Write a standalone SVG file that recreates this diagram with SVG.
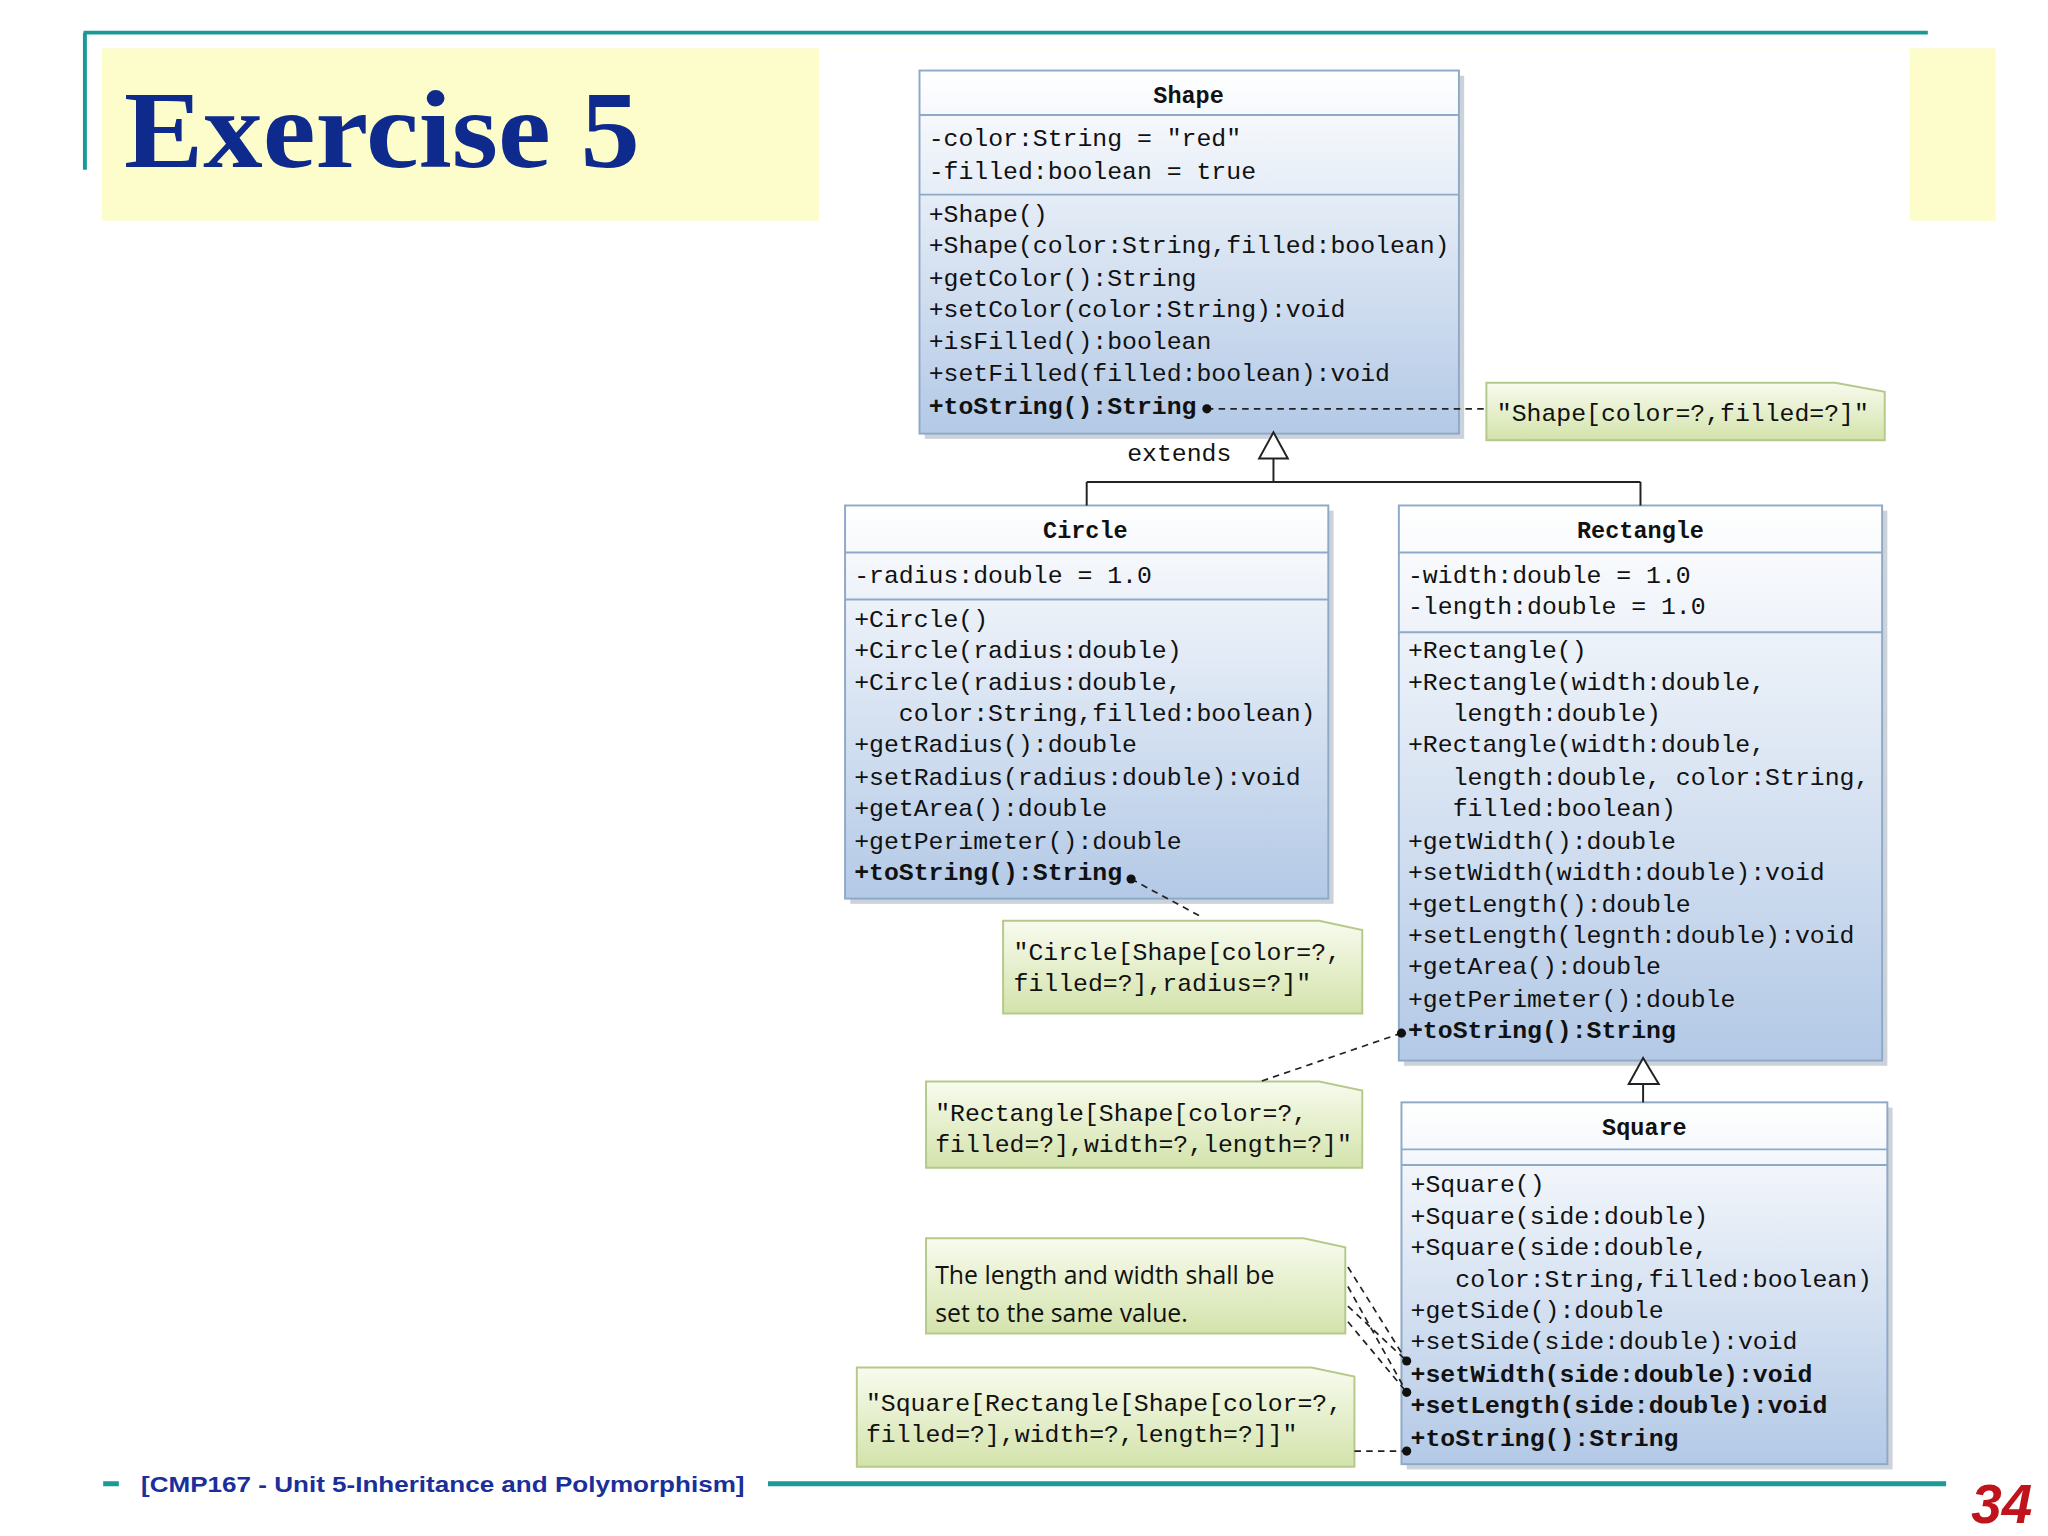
<svg xmlns="http://www.w3.org/2000/svg" width="2048" height="1536" viewBox="0 0 2048 1536">
<style>
.m{font-family:"Liberation Mono","DejaVu Sans Mono",monospace;font-size:19px;fill:#111;white-space:pre}
.b{font-weight:bold}
.h{font-family:"Liberation Mono","DejaVu Sans Mono",monospace;font-size:18px;font-weight:bold;fill:#111;text-anchor:middle}
.box{fill:url(#cg);stroke:#8fa9c8;stroke-width:1.5}
.sep{stroke:#8fa9c8;stroke-width:1.5}
.note{fill:url(#ng);stroke:#b5c98a;stroke-width:1.5}
.dash{stroke:#222;stroke-width:1.3;stroke-dasharray:5,4;fill:none}
.ln{stroke:#222;stroke-width:1.5;fill:none}
.sh{fill:#9aa5b5;opacity:0.5}
</style>
<defs>
<linearGradient id="cg" x1="0" y1="0" x2="0" y2="1"><stop offset="0" stop-color="#ffffff"/><stop offset="1" stop-color="#b3c9e6"/></linearGradient>
<linearGradient id="ng" x1="0" y1="0" x2="0" y2="1"><stop offset="0" stop-color="#f8fbee"/><stop offset="1" stop-color="#d3e3ab"/></linearGradient>
</defs>
<rect width="2048" height="1536" fill="#fff"/>
<g transform="scale(1.30612)" xml:space="preserve">
<g id="header">
<rect x="78" y="37" width="1450" height="132" fill="#fdfdcb"/>
<rect x="627" y="37" width="835" height="140" fill="#fff"/>
<path d="M64 25H1476M65 25V130" stroke="#1a9a96" stroke-width="3" fill="none"/>
<text x="95" y="128" font-family="'Liberation Serif',serif" font-weight="bold" font-size="84" fill="#0d2a8c" textLength="395" lengthAdjust="spacingAndGlyphs">Exercise 5</text>
</g>
<g id="shape">
<rect class="sh" x="708" y="58" width="413" height="278"/>
<rect class="box" x="704" y="54" width="413" height="278"/>
<path class="sep" d="M704 88H1117M704 149H1117"/>
<text class="h" x="910" y="79">Shape</text>
<text class="m" x="711" y="112">-color:String = "red"</text>
<text class="m" x="711" y="137">-filled:boolean = true</text>
<text class="m" x="711" y="170">+Shape()</text>
<text class="m" x="711" y="194">+Shape(color:String,filled:boolean)</text>
<text class="m" x="711" y="219">+getColor():String</text>
<text class="m" x="711" y="243">+setColor(color:String):void</text>
<text class="m" x="711" y="267">+isFilled():boolean</text>
<text class="m" x="711" y="292">+setFilled(filled:boolean):void</text>
<text class="m b" x="711" y="317">+toString():String</text>
</g>
<g id="note-shape">
<path class="note" d="M1138 293H1405L1443 300V337H1138Z"/>
<text class="m" x="1146" y="322">"Shape[color=?,filled=?]"</text>
</g>
<text class="m" x="863" y="353">extends</text>
<g id="circle">
<rect class="sh" x="651" y="391" width="370" height="301"/>
<rect class="box" x="647" y="387" width="370" height="301"/>
<path class="sep" d="M647 423H1017M647 459H1017"/>
<text class="h" x="831" y="412">Circle</text>
<text class="m" x="654" y="446">-radius:double = 1.0</text>
<text class="m" x="654" y="480">+Circle()</text>
<text class="m" x="654" y="504">+Circle(radius:double)</text>
<text class="m" x="654" y="528">+Circle(radius:double,</text>
<text class="m" x="654" y="552">   color:String,filled:boolean)</text>
<text class="m" x="654" y="576">+getRadius():double</text>
<text class="m" x="654" y="601">+setRadius(radius:double):void</text>
<text class="m" x="654" y="625">+getArea():double</text>
<text class="m" x="654" y="650">+getPerimeter():double</text>
<text class="m b" x="654" y="674">+toString():String</text>
</g>
<g id="note-circle">
<path class="note" d="M768 705H1010L1043 712V776H768Z"/>
<text class="m" x="776" y="735">"Circle[Shape[color=?,</text>
<text class="m" x="776" y="759">filled=?],radius=?]"</text>
</g>
<g id="rectangle">
<rect class="sh" x="1075" y="391" width="370" height="425"/>
<rect class="box" x="1071" y="387" width="370" height="425"/>
<path class="sep" d="M1071 423H1441M1071 484H1441"/>
<text class="h" x="1256" y="412">Rectangle</text>
<text class="m" x="1078" y="446">-width:double = 1.0</text>
<text class="m" x="1078" y="470">-length:double = 1.0</text>
<text class="m" x="1078" y="504">+Rectangle()</text>
<text class="m" x="1078" y="528">+Rectangle(width:double,</text>
<text class="m" x="1078" y="552">   length:double)</text>
<text class="m" x="1078" y="576">+Rectangle(width:double,</text>
<text class="m" x="1078" y="601">   length:double, color:String,</text>
<text class="m" x="1078" y="625">   filled:boolean)</text>
<text class="m" x="1078" y="650">+getWidth():double</text>
<text class="m" x="1078" y="674">+setWidth(width:double):void</text>
<text class="m" x="1078" y="698">+getLength():double</text>
<text class="m" x="1078" y="722">+setLength(legnth:double):void</text>
<text class="m" x="1078" y="746">+getArea():double</text>
<text class="m" x="1078" y="771">+getPerimeter():double</text>
<text class="m b" x="1078" y="795">+toString():String</text>
</g>
<g id="note-rectangle">
<path class="note" d="M709 828H1010L1043 835V894H709Z"/>
<text class="m" x="716" y="858">"Rectangle[Shape[color=?,</text>
<text class="m" x="716" y="882">filled=?],width=?,length=?]"</text>
</g>
<g id="square">
<rect class="sh" x="1077" y="848" width="372" height="277"/>
<rect class="box" x="1073" y="844" width="372" height="277"/>
<path class="sep" d="M1073 880H1445M1073 892H1445"/>
<text class="h" x="1259" y="869">Square</text>
<text class="m" x="1080" y="913">+Square()</text>
<text class="m" x="1080" y="937">+Square(side:double)</text>
<text class="m" x="1080" y="961">+Square(side:double,</text>
<text class="m" x="1080" y="985">   color:String,filled:boolean)</text>
<text class="m" x="1080" y="1009">+getSide():double</text>
<text class="m" x="1080" y="1033">+setSide(side:double):void</text>
<text class="m b" x="1080" y="1058">+setWidth(side:double):void</text>
<text class="m b" x="1080" y="1082">+setLength(side:double):void</text>
<text class="m b" x="1080" y="1107">+toString():String</text>
</g>
<g id="note-same">
<path class="note" d="M709 948H998L1030 955V1021H709Z"/>
<text x="716" y="983" font-family="'Open Sans','Noto Sans',sans-serif" font-size="19" fill="#111">The length and width shall be</text>
<text x="716" y="1012" font-family="'Open Sans','Noto Sans',sans-serif" font-size="19" fill="#111">set to the same value.</text>
</g>
<g id="note-square">
<path class="note" d="M656 1047H1004L1037 1054V1123H656Z"/>
<text class="m" x="663" y="1080">"Square[Rectangle[Shape[color=?,</text>
<text class="m" x="663" y="1104">filled=?],width=?,length=?]]"</text>
</g>
<g id="connectors">
<path class="dash" d="M924 313H1138"/>
<circle cx="924" cy="313" r="3.5" fill="#111"/>
<path class="ln" d="M975 351V369M832 369H1256M832 369V387M1256 369V387"/>
<path d="M975 331L964 351H986Z" fill="#fff" stroke="#222" stroke-width="1.5"/>
<path class="dash" d="M866 673L920 702"/>
<circle cx="866" cy="673" r="3.5" fill="#111"/>
<path class="dash" d="M1073 791L965 828"/>
<circle cx="1073" cy="791" r="3.5" fill="#111"/>
<path class="ln" d="M1258 830V844"/>
<path d="M1258 810L1247 830H1270Z" fill="#fff" stroke="#222" stroke-width="1.5"/>
<path class="dash" d="M1032 970L1077 1042M1032 985L1077 1066M1032 1000L1077 1042M1032 1012L1077 1066"/>
<circle cx="1077" cy="1042" r="3.5" fill="#111"/>
<circle cx="1077" cy="1066" r="3.5" fill="#111"/>
<path class="dash" d="M1037 1111H1077"/>
<circle cx="1077" cy="1111" r="3.5" fill="#111"/>
</g>
<g id="footer">
<path d="M79 1136H91M588 1136H1490" stroke="#1a9a96" stroke-width="4"/>
<text x="108" y="1142" font-family="'Liberation Sans',sans-serif" font-weight="bold" font-size="17" fill="#1a2f9a" textLength="462" lengthAdjust="spacingAndGlyphs">[CMP167 - Unit 5-Inheritance and Polymorphism]</text>
<text x="1556" y="1166" text-anchor="end" font-family="'Liberation Sans',sans-serif" font-weight="bold" font-style="italic" font-size="42" fill="#c0141c">34</text>
</g>
</g>
</svg>
